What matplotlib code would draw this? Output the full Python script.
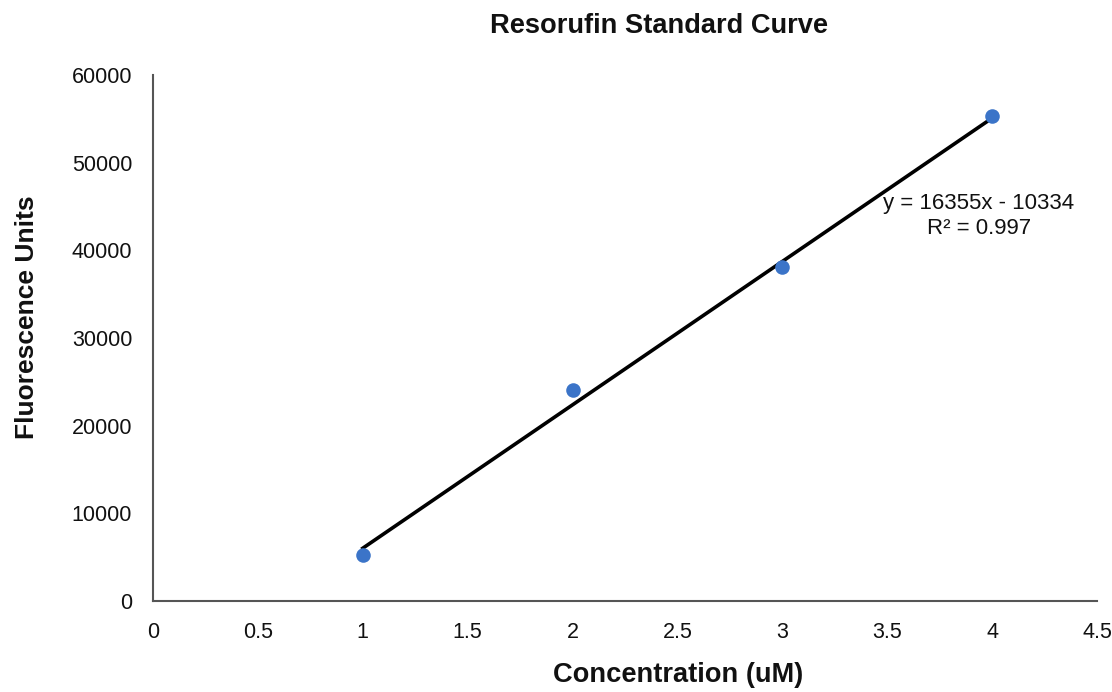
import matplotlib
matplotlib.use("Agg")
import matplotlib.pyplot as plt
import numpy as np

plt.rcParams['font.family'] = ['Liberation Sans', 'DejaVu Sans']

# Data
concentration = [1, 2, 3, 4]
fluorescence = [5250, 24050, 38050, 55300]
slope = 16355
intercept = -10334
r_squared = 0.997

x_ticks = [0, 0.5, 1, 1.5, 2, 2.5, 3, 3.5, 4, 4.5]
x_tick_labels = ['0', '0.5', '1', '1.5', '2', '2.5', '3', '3.5', '4', '4.5']
y_ticks = [0, 10000, 20000, 30000, 40000, 50000, 60000]

fig = plt.figure(figsize=(11.12, 6.92), dpi=100)
ax = fig.add_axes([153/1112, 1-601/692, (1097-153)/1112, (601-75)/692])

xs = np.array([min(concentration), max(concentration)])
ax.plot(xs, slope*xs + intercept, color='black', lw=2.6, zorder=2)
ax.scatter(concentration, fluorescence, s=110, color='#3b74c8', zorder=3, linewidths=0)

ax.set_xlim(0, 4.5)
ax.set_ylim(0, 60000)
ax.set_xticks(x_ticks)
ax.set_xticklabels(x_tick_labels)
ax.set_yticks(y_ticks)
ax.tick_params(length=0, labelsize=15.5, pad=15, colors='#111111')
for s in ['top', 'right']:
    ax.spines[s].set_visible(False)
for s in ['left', 'bottom']:
    ax.spines[s].set_color('#555555')
    ax.spines[s].set_linewidth(1.5)

fig.text(659/1112, 1-26/692, 'Resorufin Standard Curve', ha='center', va='center',
         fontsize=19.6, fontweight='bold', color='#111111')
fig.text(678/1112, 1-675/692, 'Concentration (uM)', ha='center', va='center',
         fontsize=19.6, fontweight='bold', color='#111111')
fig.text(27/1112, 1-317/692, 'Fluorescence Units', ha='center', va='center',
         rotation=90, fontsize=19, fontweight='bold', color='#111111')

sign = '-' if intercept < 0 else '+'
fig.text(979/1112, 1-203/692, f'y = {slope}x {sign} {abs(intercept)}', ha='center', va='center',
         fontsize=16, color='#111111')
fig.text(979/1112, 1-228/692, f'R² = {r_squared}', ha='center', va='center',
         fontsize=16, color='#111111')

fig.savefig('out.png', dpi=100, facecolor='white')
